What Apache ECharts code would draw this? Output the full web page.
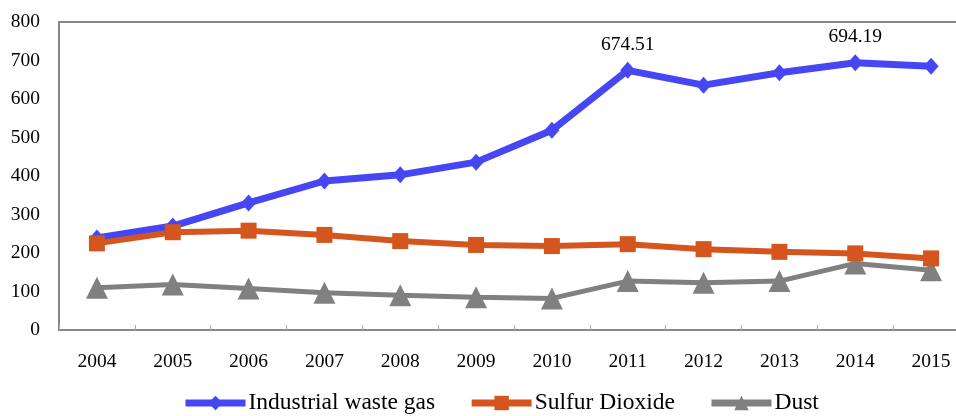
<!DOCTYPE html>
<html><head><meta charset="utf-8">
<script src="https://cdn.jsdelivr.net/npm/echarts@6/dist/echarts.min.js"></script>
<style>html,body{margin:0;padding:0;background:#fff}#c{width:956px;height:416px}</style>
</head><body><div id="c"></div>
<script>
const years = ['2004','2005','2006','2007','2008','2009','2010','2011','2012','2013','2014','2015'];
const wasteGas = [239, 270, 330, 387, 403, 436, 519, 674.51, 636, 668, 694.19, 685];
const sulfur = [225, 254, 258, 247, 231, 221, 218, 223, 210, 203, 199, 186];
const dust = [110, 118, 108, 97, 90, 85, 82, 127, 123, 127, 173, 155];
const labeledYears = ['2011', '2014'];
const yTicks = [0, 100, 200, 300, 400, 500, 600, 700, 800];

const font = 'Liberation Serif';
const chart = echarts.init(document.getElementById('c'));
chart.setOption({
  animation: false,
  grid: { left: 59, width: 910, top: 22, bottom: 86, outerBoundsMode: 'none', containLabel: false, show: true, borderColor: '#888', borderWidth: 2 },
  xAxis: {
    type: 'category', data: years, boundaryGap: true,
    axisLine: { lineStyle: { color: '#888', width: 2 } },
    axisTick: { show: true, inside: true, length: 5, lineStyle: { color: '#aaa' } },
    axisLabel: { fontFamily: font, fontSize: 19.5, color: '#000', margin: 22 }
  },
  yAxis: {
    type: 'value', min: yTicks[0], max: yTicks[yTicks.length - 1], interval: 100,
    axisLine: { show: true, lineStyle: { color: '#888', width: 2 } },
    axisTick: { show: false },
    splitLine: { show: false },
    axisLabel: { fontFamily: font, fontSize: 19.5, color: '#000', margin: 19 }
  },
  legend: {
    top: 391, left: 182, padding: 0, itemGap: 33, itemWidth: 60, itemHeight: 18,
    lineStyle: { width: 7 },
    textStyle: { fontFamily: font, fontSize: 23.5, color: '#000', padding: [0, 0, 0, -2] },
    data: ['Industrial waste gas', 'Sulfur Dioxide', 'Dust']
  },
  series: [
    {
      name: 'Industrial waste gas', type: 'line', data: wasteGas.map((v, i) => ({
        value: v,
        label: { show: labeledYears.includes(years[i]) }
      })),
      symbol: 'diamond', symbolSize: [15, 17], color: '#4646F5',
      lineStyle: { width: 7, color: '#4646F5' },
      label: { position: 'top', distance: 7, fontFamily: font, fontSize: 19.5, color: '#000', formatter: p => p.value.toFixed(2) },
      z: 3
    },
    {
      name: 'Sulfur Dioxide', type: 'line', data: sulfur,
      symbol: 'rect', symbolSize: 16, color: '#D4561E',
      lineStyle: { width: 6, color: '#D4561E' }, z: 4
    },
    {
      name: 'Dust', type: 'line', data: dust,
      symbol: 'triangle', symbolSize: 22, color: '#808080',
      lineStyle: { width: 5, color: '#808080' }, z: 2
    }
  ]
});
</script></body></html>
